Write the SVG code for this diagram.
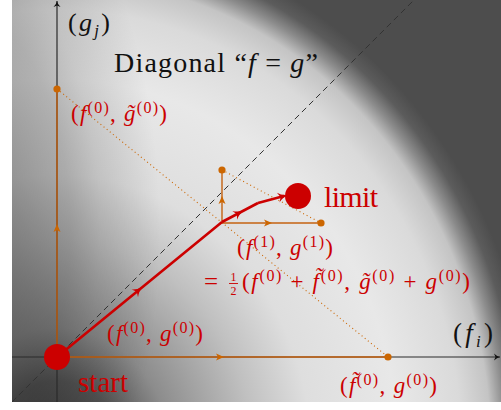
<svg xmlns="http://www.w3.org/2000/svg" width="501" height="410" viewBox="0 0 501 410">
<style>
.t{font-family:"Liberation Serif","DejaVu Serif",serif;}
.r{fill:#cc0000;}
.m{font-size:23px;}
.k{fill:#111;}
.i{font-style:italic;}
.s{font-size:16px;}
.ax{stroke:#2a2a2a;stroke-width:1.2;fill:none;}
.or{stroke:#c46210;stroke-width:1.4;fill:none;}
.dot{fill:#cc6600;}
.rp{stroke:#cc0000;stroke-width:2.6;fill:none;stroke-linejoin:round;}
.dt{stroke:#cc6600;stroke-width:1.1;stroke-dasharray:1 3;fill:none;}
</style>
<defs>
<radialGradient id="bg" gradientUnits="userSpaceOnUse" cx="57" cy="450" r="530" gradientTransform="translate(57 450) scale(0.92 1) translate(-57 -450)">
<stop offset="0" stop-color="#3a3a3a"/>
<stop offset="0.13" stop-color="#555555"/>
<stop offset="0.23" stop-color="#8c8c8c"/>
<stop offset="0.40" stop-color="#c0c0c0"/>
<stop offset="0.52" stop-color="#dedede"/>
<stop offset="0.70" stop-color="#e8e8e8"/>
<stop offset="0.83" stop-color="#dadada"/>
<stop offset="0.89" stop-color="#c4c4c4"/>
<stop offset="0.92" stop-color="#8c8c8c"/>
<stop offset="0.95" stop-color="#5c5c5c"/>
<stop offset="0.98" stop-color="#4d4d4d"/>
<stop offset="1" stop-color="#4d4d4d"/>
</radialGradient>
<radialGradient id="lf" gradientUnits="userSpaceOnUse" cx="-40" cy="230" r="400" gradientTransform="translate(-40 230) scale(0.5 1) translate(40 -230)">
<stop offset="0" stop-color="#000" stop-opacity="0.42"/>
<stop offset="0.3" stop-color="#000" stop-opacity="0.33"/>
<stop offset="0.55" stop-color="#000" stop-opacity="0.23"/>
<stop offset="0.7" stop-color="#000" stop-opacity="0.13"/>
<stop offset="1" stop-color="#000" stop-opacity="0"/>
</radialGradient>
<marker id="ka" viewBox="-7 -4 8 8" markerWidth="8" markerHeight="8" refX="0" refY="0" orient="auto" markerUnits="userSpaceOnUse">
<path d="M-6,-3.5 Q-3,-0.5 0,0 Q-3,0.5 -6,3.5 L-4.5,0 z" fill="#111"/>
</marker>
<marker id="oa" viewBox="-5 -4 10 8" markerWidth="10" markerHeight="8" refX="0" refY="0" orient="auto" markerUnits="userSpaceOnUse">
<path d="M-4,-3.5 L4,0 L-4,3.5 L-2,0 z" fill="#cc6600"/>
</marker>
<marker id="ra" viewBox="-7 -6 14 12" markerWidth="14" markerHeight="12" refX="0" refY="0" orient="auto" markerUnits="userSpaceOnUse">
<path d="M-6,-5 Q-2,-1 5,0 Q-2,1 -6,5 L-3.5,0 z" fill="#cc0000"/>
</marker>
</defs>
<g id="background">
<rect x="12" y="0" width="489" height="402" fill="url(#bg)"/>
<rect x="12" y="0" width="489" height="402" fill="url(#lf)"/>
</g>
<g id="connectors">
<path class="ax" d="M57,402 L57,1" marker-end="url(#ka)"/>
<path class="ax" d="M12,357 L500,357" marker-end="url(#ka)"/>
<path d="M12,402 L414,0" stroke="#333" stroke-width="1" stroke-dasharray="6 4" fill="none"/>
<path class="or" d="M57,357 L57,228 L57,89" marker-mid="url(#oa)"/>
<path class="or" d="M57,357 L220,357 L388,357" marker-mid="url(#oa)"/>
<path class="or" d="M222,223 L222,200 L222,170" marker-mid="url(#oa)"/>
<path class="or" d="M222,223 L268,223 L321,223" marker-mid="url(#oa)"/>
<path class="dt" d="M57,89 L388,357"/>
<path class="dt" d="M222,170 L321,223"/>
<path class="rp" d="M57,357 L139.5,289.5 L222,222" marker-mid="url(#ra)"/>
<path class="rp" d="M222,222 L240,212.5 L258,203" marker-mid="url(#ra)"/>
<path class="rp" d="M258,203 L284,196" marker-end="url(#ra)"/>
</g>
<g id="axis-g">
<text class="t k" x="68" y="31" style="font-size:26px" textLength="42">(<tspan class="i">g</tspan><tspan class="i" style="font-size:17px" dy="5">j</tspan><tspan dy="-5">)</tspan></text>
</g>
<g id="axis-f">
<text class="t k" x="453" y="342" style="font-size:27px" textLength="40">(<tspan class="i">f</tspan><tspan class="i" style="font-size:17px" dy="5">i</tspan><tspan dy="-5">)</tspan></text>
</g>
<g id="diagonal-label">
<text class="t k" x="114" y="72" style="font-size:28px" textLength="204">Diagonal “<tspan class="i">f</tspan> = <tspan class="i">g</tspan>”</text>
</g>
<g id="start">
<circle cx="57" cy="357" r="13" fill="#cc0000"/>
<text class="t r" x="78" y="392" style="font-size:29px" textLength="50">start</text>
</g>
<g id="limit">
<circle cx="298" cy="196" r="13" fill="#cc0000"/>
<text class="t r" x="324" y="207" style="font-size:30px" textLength="54">limit</text>
</g>
<g id="p-f0-g0">
<text class="t r m" x="107" y="341" textLength="96">(<tspan class="i">f</tspan><tspan class="s" dy="-8">(0)</tspan><tspan dy="8">, </tspan><tspan class="i">g</tspan><tspan class="s" dy="-8">(0)</tspan><tspan dy="8">)</tspan></text>
</g>
<g id="p-f0-gt0">
<circle class="dot" cx="57" cy="89" r="3.6"/>
<text class="t r m" x="71" y="121" textLength="96">(<tspan class="i">f</tspan><tspan class="s" dy="-8">(0)</tspan><tspan dy="8">, </tspan><tspan class="i">g&#x303;</tspan><tspan class="s" dy="-8">(0)</tspan><tspan dy="8">)</tspan></text>
</g>
<g id="p-ft0-g0">
<circle class="dot" cx="388" cy="357" r="3.6"/>
<text class="t r m" x="340" y="393" textLength="97">(<tspan class="i">f&#x303;</tspan><tspan class="s" dy="-8">(0)</tspan><tspan dy="8">, </tspan><tspan class="i">g</tspan><tspan class="s" dy="-8">(0)</tspan><tspan dy="8">)</tspan></text>
</g>
<g id="p-f1-g1">
<text class="t r m" x="237" y="255" textLength="96">(<tspan class="i">f</tspan><tspan class="s" dy="-8">(1)</tspan><tspan dy="8">, </tspan><tspan class="i">g</tspan><tspan class="s" dy="-8">(1)</tspan><tspan dy="8">)</tspan></text>
<text class="t r" x="204" y="290" style="font-size:25px">=</text>
<text class="t r" x="233.5" y="281" style="font-size:12px" text-anchor="middle">1</text>
<line x1="229" y1="283.5" x2="238" y2="283.5" stroke="#cc0000" stroke-width="0.9"/>
<text class="t r" x="233.5" y="295" style="font-size:12px" text-anchor="middle">2</text>
<text class="t r m" x="242" y="289" textLength="228">(<tspan class="i">f</tspan><tspan class="s" dy="-8">(0)</tspan><tspan dy="8"> + </tspan><tspan class="i">f&#x303;</tspan><tspan class="s" dy="-8">(0)</tspan><tspan dy="8">, </tspan><tspan class="i">g&#x303;</tspan><tspan class="s" dy="-8">(0)</tspan><tspan dy="8"> + </tspan><tspan class="i">g</tspan><tspan class="s" dy="-8">(0)</tspan><tspan dy="8">)</tspan></text>
</g>
<g id="p-f1a">
<circle class="dot" cx="222" cy="170" r="3.6"/>
</g>
<g id="p-f1b">
<circle class="dot" cx="321" cy="223" r="3.6"/>
</g>
</svg>
